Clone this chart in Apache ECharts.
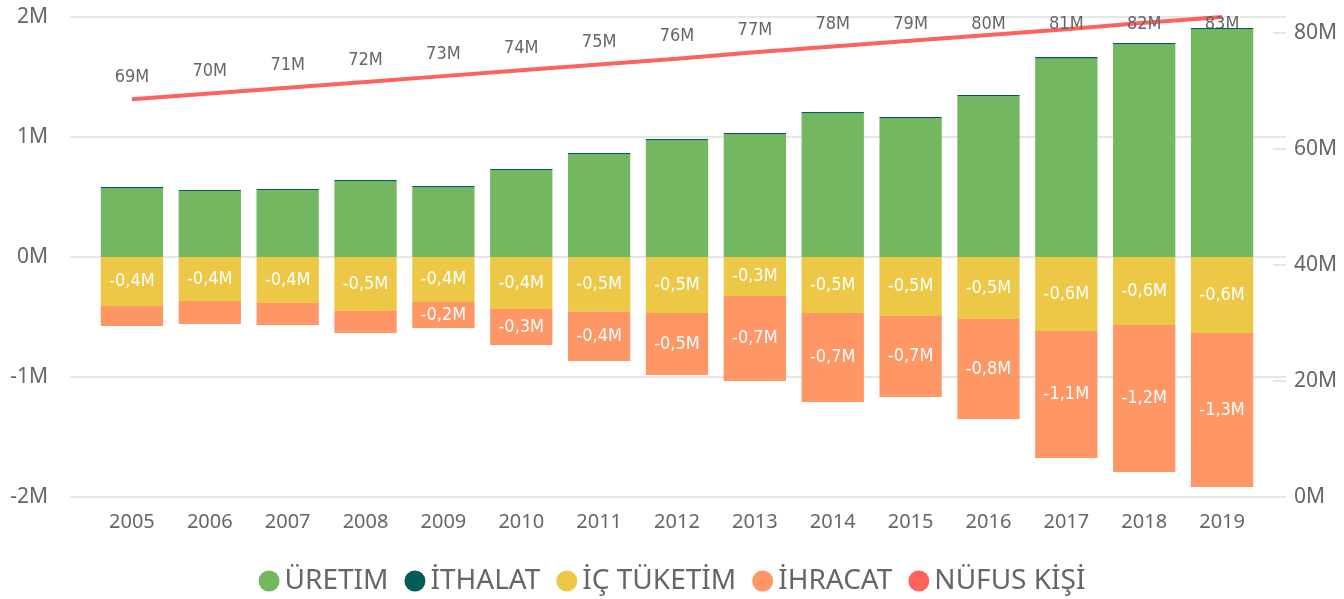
<!DOCTYPE html>
<html lang="tr">
<head>
    <meta charset="UTF-8">
    <title>Üretim / Tüketim</title>
    <script src="https://cdn.jsdelivr.net/npm/echarts@6/dist/echarts.min.js"></script>
    <style>
        html, body { margin: 0; padding: 0; background: #fff; }
        #chart { width: 1344px; height: 599px; }
    </style>
</head>
<body>
<div id="chart"></div>
<script>
    // veriler (milyon)
    const years = ['2005', '2006', '2007', '2008', '2009', '2010', '2011', '2012', '2013', '2014', '2015', '2016', '2017', '2018', '2019'];
    const uretim = [0.572, 0.550, 0.558, 0.632, 0.582, 0.723, 0.857, 0.973, 1.023, 1.198, 1.157, 1.340, 1.655, 1.773, 1.898];
    const ithalat = [0.011, 0.008, 0.009, 0.010, 0.010, 0.010, 0.010, 0.010, 0.010, 0.010, 0.010, 0.010, 0.012, 0.010, 0.010];
    const icTuketim = [-0.408, -0.367, -0.383, -0.450, -0.375, -0.433, -0.455, -0.467, -0.325, -0.467, -0.492, -0.517, -0.617, -0.567, -0.633];
    const ihracat = [-0.167, -0.191, -0.184, -0.183, -0.217, -0.300, -0.412, -0.516, -0.708, -0.741, -0.675, -0.833, -1.058, -1.225, -1.283];
    const nufus = [68.6, 69.6, 70.6, 71.6, 72.6, 73.6, 74.6, 75.6, 76.7, 77.7, 78.7, 79.7, 80.7, 81.8, 82.8];

    const gray = '#666666';
    const gridLine = '#e6e6e6';
    const labelFont = "'DejaVu Sans Condensed', sans-serif";
    const fmtBar = p => Math.abs(p.value) < 0.2 ? '' : p.value.toFixed(1).replace('.', ',') + 'M';

    const chart = echarts.init(document.getElementById('chart'));
    chart.setOption({
        animation: false,
        textStyle: { fontFamily: "'Noto Sans', sans-serif" },
        legend: {
            top: 562,
            left: 'center',
            icon: 'circle',
            itemWidth: 21,
            itemHeight: 21,
            itemGap: 16,
            textStyle: { fontSize: 28, color: gray },
            data: ['ÜRETIM', 'İTHALAT', 'İÇ TÜKETİM', 'İHRACAT', 'NÜFUS KİŞİ']
        },
        grid: [
            { left: 70, right: 58, top: 17, bottom: 102 },
            { left: 93, right: 83, top: 17, bottom: 102 }
        ],
        xAxis: [
            { gridIndex: 0, type: 'category', data: years, show: false },
            {
                gridIndex: 1, type: 'category', data: years,
                axisLine: { show: false }, axisTick: { show: false },
                axisLabel: { color: gray, fontSize: 20, margin: 15 }
            }
        ],
        yAxis: [
            {
                gridIndex: 0, type: 'value', min: -2, max: 2, interval: 1,
                axisLabel: { color: gray, fontSize: 21, margin: 22, formatter: v => v + 'M' },
                splitLine: { lineStyle: { color: gridLine, width: 2 } }
            },
            { gridIndex: 1, type: 'value', min: -2, max: 2, interval: 1, show: false },
            {
                gridIndex: 1, type: 'value', position: 'right', min: 0, max: 82.8, interval: 20,
                offset: 12,
                axisLine: { show: false },
                axisTick: { show: true, length: 13, lineStyle: { color: gridLine, width: 2 } },
                splitLine: { show: false },
                axisLabel: { color: gray, fontSize: 21, margin: 21, showMaxLabel: false, formatter: v => v + 'M' }
            }
        ],
        series: [
            {
                name: 'ÜRETIM', type: 'bar', stack: 'a', xAxisIndex: 1, yAxisIndex: 1,
                barWidth: '80%', data: uretim, itemStyle: { color: '#73B761' }
            },
            {
                name: 'İTHALAT', type: 'bar', stack: 'a', xAxisIndex: 1, yAxisIndex: 1,
                data: ithalat, itemStyle: { color: '#035C55' }
            },
            {
                name: 'İÇ TÜKETİM', type: 'bar', stack: 'a', xAxisIndex: 1, yAxisIndex: 1,
                data: icTuketim, itemStyle: { color: '#ECC846' },
                label: { show: true, position: 'inside', color: '#fff', fontSize: 18, fontFamily: labelFont, formatter: fmtBar }
            },
            {
                name: 'İHRACAT', type: 'bar', stack: 'a', xAxisIndex: 1, yAxisIndex: 1,
                data: ihracat, itemStyle: { color: '#FF9666' },
                label: { show: true, position: 'inside', color: '#fff', fontSize: 18, fontFamily: labelFont, formatter: fmtBar }
            },
            {
                name: 'NÜFUS KİŞİ', type: 'line', xAxisIndex: 1, yAxisIndex: 2, z: 1,
                data: nufus, symbol: 'circle', symbolSize: 0.1, showSymbol: true,
                itemStyle: { color: '#FD625E' },
                lineStyle: { color: '#FD625E', width: 4 },
                label: {
                    show: true, position: 'top', distance: 13, color: gray, fontSize: 18,
                    fontFamily: labelFont,
                    formatter: p => Math.round(p.value) + 'M'
                },
                // etiketler üst kenarı aşmasın
                labelLayout: function (params) {
                    const r = params.labelRect;
                    return {
                        x: r.x + r.width / 2,
                        y: Math.max(r.y + r.height / 2, 24),
                        align: 'center',
                        verticalAlign: 'middle'
                    };
                }
            }
        ]
    });
</script>
</body>
</html>
